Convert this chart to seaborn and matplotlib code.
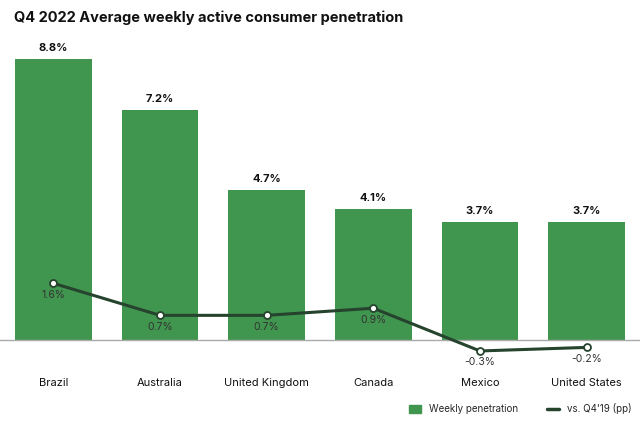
import numpy as np
import pandas as pd
import matplotlib.pyplot as plt
import seaborn as sns
from matplotlib.patches import Patch
from matplotlib.lines import Line2D

# Chart data
countries = ["Brazil", "Australia", "United Kingdom", "Canada", "Mexico", "United States"]
penetration = [8.8, 7.2, 4.7, 4.1, 3.7, 3.7]
vs_q419 = [1.6, 0.7, 0.7, 0.9, -0.3, -0.2]

bar_color = "#41964f"
line_color = "#25432d"

sns.set_style("white")
plt.rcParams['font.family'] = ['Inter', 'DejaVu Sans']

df = pd.DataFrame({"country": countries, "pen": penetration, "delta": vs_q419})

fig = plt.figure(figsize=(6.4, 4.26), dpi=100)
ax = fig.add_axes([0.0, 0.131, 1.0, 0.775])

sns.barplot(data=df, x="country", y="pen", color=bar_color, width=0.72,
            saturation=1, linewidth=0, edgecolor="none", ax=ax)
ax.set_xlim(-0.5, 5.5)
ax.set_ylim(-0.94, 9.4)
for i, v in enumerate(penetration):
    ax.text(i, v + 0.2, f"{v}%", ha="center", va="bottom",
            fontsize=8, fontweight="bold", color="#111111")

ax2 = ax.twinx()
sns.lineplot(x=np.arange(len(countries)), y=vs_q419, ax=ax2, color=line_color,
             lw=2.2, marker="o", markersize=5, markerfacecolor="white",
             markeredgecolor=line_color, markeredgewidth=1.3)
ax2.set_ylim(-0.84, 8.43)
for i, v in enumerate(vs_q419):
    ax2.text(i, v - 0.18, f"{v}%", ha="center", va="top",
             fontsize=7.5, color="#333333")

ax.axhline(0, color="#aaaaaa", lw=1, zorder=1)

for a in (ax, ax2):
    a.set_yticks([])
    a.set_ylabel("")
    for s in a.spines.values():
        s.set_visible(False)
ax.set_xlabel("")
ax.set_xticks([])
for i, c in enumerate(countries):
    fig.text((i + 0.5) / 6, 1 - 383 / 426, c, ha="center", va="center",
             fontsize=8, color="#111111")

fig.text(0.022, 1 - 18 / 426, "Q4 2022 Average weekly active consumer penetration",
         fontsize=10.5, fontweight="bold", va="center", color="#111111")

handles = [Patch(color=bar_color, label="Weekly penetration"),
           Line2D([0], [0], color=line_color, lw=2.5, label="vs. Q4'19 (pp)")]
fig.legend(handles=handles, loc="center right", bbox_to_anchor=(1.0, 1 - 409 / 426),
           ncol=2, frameon=False, fontsize=7, handlelength=1.2, columnspacing=3,
           handleheight=0.9)

fig.savefig("out.png", dpi=100)
